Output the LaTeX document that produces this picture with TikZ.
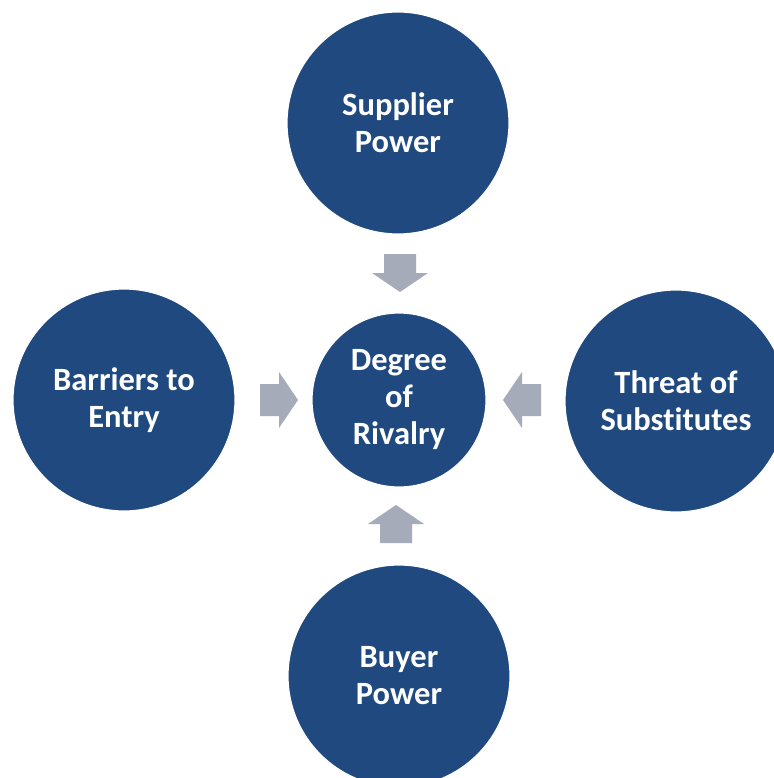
\documentclass[tikz,border=0pt]{standalone}
\usepackage{fontspec}
\setmainfont{Carlito}[Ligatures=NoCommon]
\definecolor{circblue}{RGB}{31,73,127}
\definecolor{arrowgray}{RGB}{166,171,186}
\tikzset{
  x=1pt, y=-1pt,
  force/.style={circle, fill=circblue, draw=white, line width=1.2pt, inner sep=0pt,
    text=white, align=center, font=\fontsize{32.5}{37}\selectfont\bfseries},
  bigforce/.style={force, minimum size=222pt},
  centerforce/.style={force, minimum size=174pt},
  blockarrow/.pic={\fill[arrowgray] (-19,-16) -- (0,-16) -- (0,-28) -- (19,0) -- (0,28) -- (0,16) -- (-19,16) -- cycle;}
}
\begin{document}
\begin{tikzpicture}
\useasboundingbox (0,0) rectangle (773,778);
\node[centerforce] (rivalry) at (399,400) {Degree\\of\\Rivalry};
\node[bigforce] (supplier) at (398,123) {Supplier\\Power};
\node[bigforce] (barriers) at (124,400) {Barriers to\\Entry};
\node[bigforce] (threat) at (676,401) {Threat of\\Substitutes};
\node[bigforce] (buyer) at (399,676) {Buyer\\Power};
\coordinate (atop) at (400,273);
\coordinate (aleft) at (279,400);
\coordinate (aright) at (522,400);
\coordinate (abottom) at (396,524);
\pic[rotate=-90] at (atop) {blockarrow};
\pic at (aleft) {blockarrow};
\pic[rotate=180] at (aright) {blockarrow};
\pic[rotate=90] at (abottom) {blockarrow};
\end{tikzpicture}
\end{document}
